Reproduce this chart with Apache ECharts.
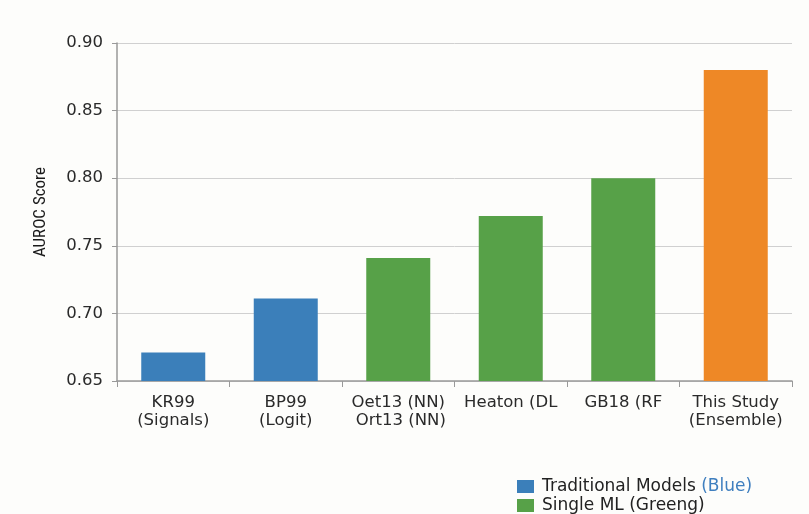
<!DOCTYPE html>
<html>
<head>
<meta charset="utf-8">
<style>
  html, body { margin: 0; padding: 0; background: #fdfdfb; }
  #chart { width: 809px; height: 514px; }
</style>
<script src="https://cdn.jsdelivr.net/npm/echarts@6/dist/echarts.min.js"></script>
</head>
<body>
<div id="chart"></div>
<script>
// Model comparison: AUROC by approach
const categories = ['KR99\n(Signals)', 'BP99\n(Logit)', 'Oet13 (NN)\n Ort13 (NN)', 'Heaton (DL', 'GB18 (RF', 'This Study\n(Ensemble)'];
const scores = [0.671, 0.711, 0.741, 0.772, 0.800, 0.880];
const groups = ['trad', 'trad', 'ml', 'ml', 'ml', 'ours'];
const yTicks = { min: 0.65, max: 0.90, step: 0.05 };

const groupDefs = [
  { key: 'trad', name: 'Traditional Models', color: '#3b7fba' },
  { key: 'ml', name: 'Single ML', color: '#57a148' },
  { key: 'ours', name: 'This Study', color: '#ee8826' }
];
const legendText = {
  'Traditional Models': '{t|Traditional Models} {b|(Blue)}',
  'Single ML': '{t|Single ML (Greeng)}'
};

const sans = "'DejaVu Sans', Verdana, sans-serif";
const narrow = "'Liberation Sans Narrow', 'Roboto Condensed', sans-serif";
const chart = echarts.init(document.getElementById('chart'), null, { renderer: 'canvas' });

const series = groupDefs.map(g => ({
  name: g.name,
  type: 'bar',
  barWidth: 64,
  barGap: '-100%',
  itemStyle: { color: g.color },
  data: scores.map((v, i) => groups[i] === g.key ? v : '-')
}));

// one legend block per row so each line sits at its own height
const legendRow = (name, top) => ({
  orient: 'vertical',
  left: 512, top: top,
  itemWidth: 17, itemHeight: 13,
  icon: 'rect',
  data: [name],
  formatter: n => legendText[n],
  textStyle: {
    fontFamily: sans, fontSize: 17,
    rich: {
      t: { color: '#222', fontSize: 17, fontFamily: sans, padding: [0, 0, 0, 3] },
      b: { color: '#3f7fbf', fontSize: 17, fontFamily: sans }
    }
  }
});

chart.setOption({
  backgroundColor: '#fdfdfb',
  animation: false,
  grid: { left: 117, right: 17, top: 43, bottom: 133 },
  xAxis: {
    type: 'category',
    data: categories,
    axisLine: { lineStyle: { color: '#999', width: 1.5 } },
    axisTick: { show: true, length: 6, lineStyle: { color: '#999' } },
    axisLabel: {
      color: '#2a2a2a', fontSize: 16.5, fontFamily: sans,
      lineHeight: 18, margin: 13, interval: 0
    }
  },
  yAxis: {
    type: 'value',
    min: yTicks.min, max: yTicks.max, interval: yTicks.step,
    name: 'AUROC Score',
    nameLocation: 'middle',
    nameRotate: 90,
    nameGap: 68,
    nameTextStyle: { color: '#1a1a1a', fontSize: 17, fontFamily: narrow },
    axisLine: { show: true, lineStyle: { color: '#999', width: 1.5 } },
    axisTick: { show: true, length: 5, lineStyle: { color: '#999' } },
    axisLabel: {
      color: '#2a2a2a', fontSize: 16.5, fontFamily: sans, margin: 14,
      formatter: v => v.toFixed(2)
    },
    splitLine: { lineStyle: { color: '#d0d0d0', width: 1 } }
  },
  legend: [legendRow('Traditional Models', 473), legendRow('Single ML', 492)],
  series: series
});
</script>
</body>
</html>
